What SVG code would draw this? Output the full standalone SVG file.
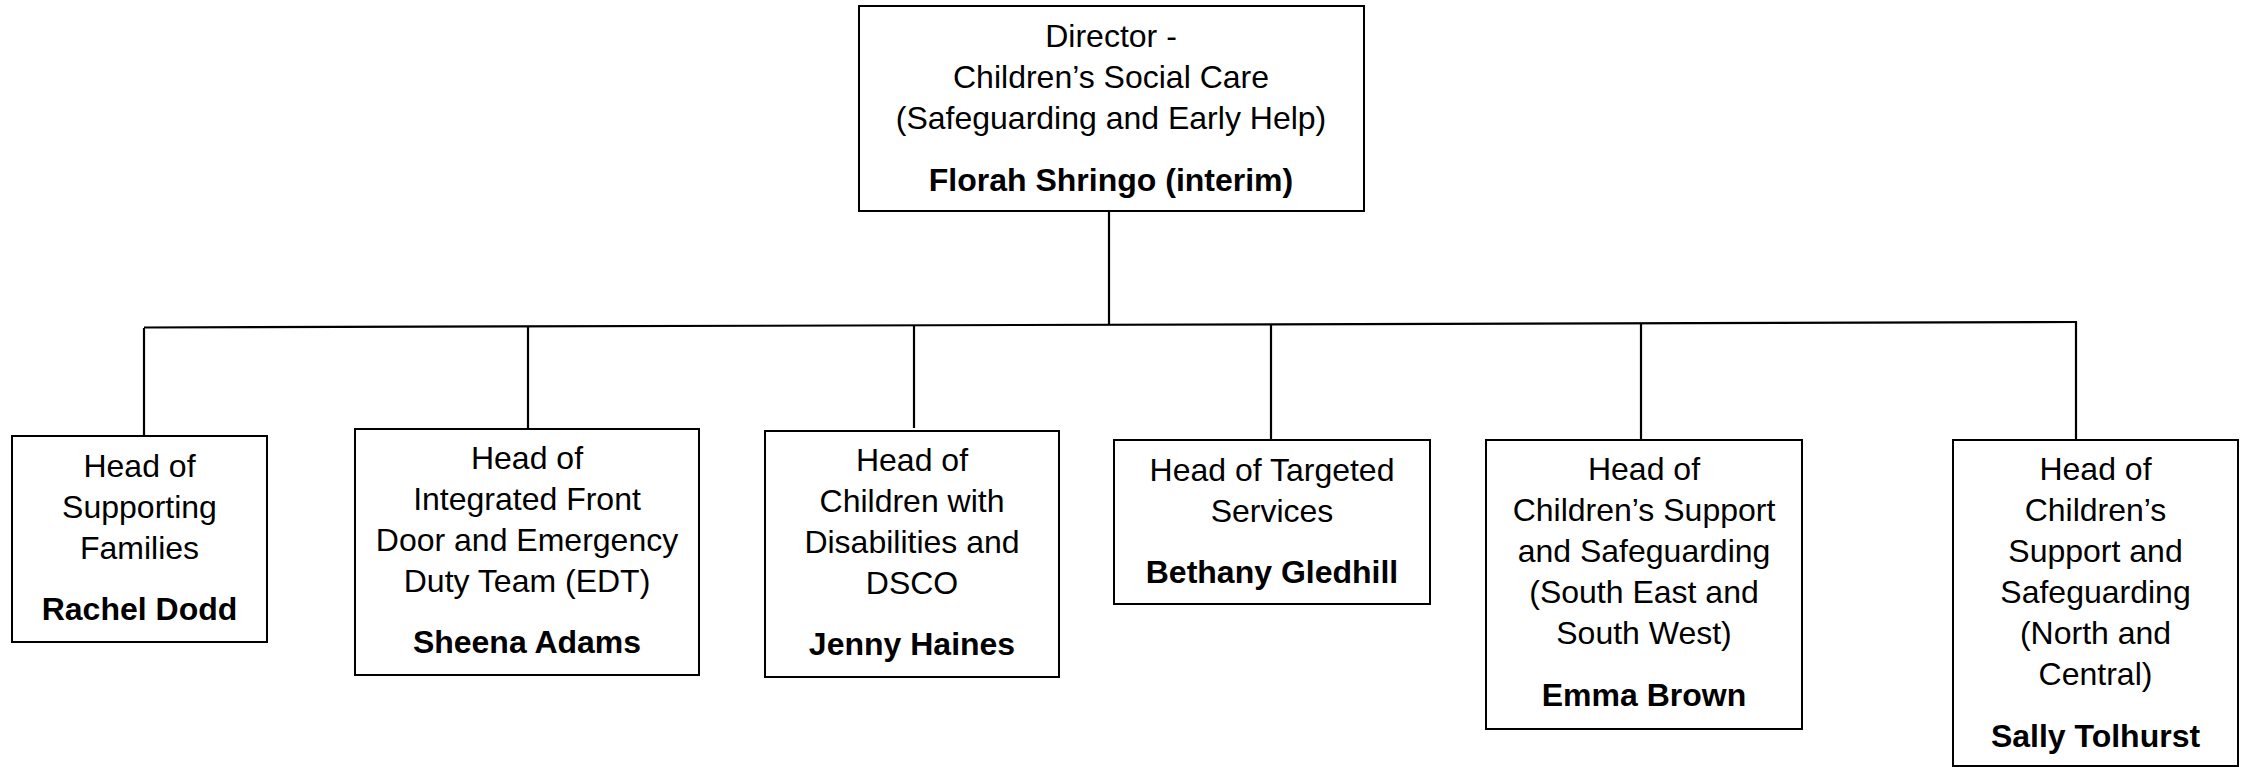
<svg xmlns="http://www.w3.org/2000/svg" width="2249" height="767" viewBox="0 0 2249 767">
<style>
.box{fill:#fff;stroke:#000;stroke-width:2}
.t{font-family:"Liberation Sans",Arial,sans-serif;font-size:32px;fill:#000;text-anchor:middle}
.b{font-weight:bold}
.ln{stroke:#000;stroke-width:2.2;fill:none}
</style>
<rect width="2249" height="767" fill="#fff"/>
<g id="connectors">
<line class="ln" x1="1109" y1="205" x2="1109" y2="325"/>
<line class="ln" x1="144" y1="327.5" x2="2077" y2="322" stroke-width="2.6"/>
<line class="ln" x1="144" y1="328" x2="144" y2="436"/>
<line class="ln" x1="528" y1="327" x2="528" y2="430"/>
<line class="ln" x1="914" y1="326" x2="914" y2="428"/>
<line class="ln" x1="1271" y1="325" x2="1271" y2="440"/>
<line class="ln" x1="1641" y1="323" x2="1641" y2="440"/>
<line class="ln" x1="2076" y1="322" x2="2076" y2="442"/>
</g>
<g id="director">
<rect class="box" x="859" y="6" width="505" height="205"/>
<text class="t" x="1111" y="47">Director -</text>
<text class="t" x="1111" y="88">Children’s Social Care</text>
<text class="t" x="1111" y="129">(Safeguarding and Early Help)</text>
<text class="t b" x="1111" y="191">Florah Shringo (interim)</text>
</g>
<g id="rachel">
<rect class="box" x="12" y="436" width="255" height="206"/>
<text class="t" x="139.5" y="477">Head of</text>
<text class="t" x="139.5" y="518">Supporting</text>
<text class="t" x="139.5" y="559">Families</text>
<text class="t b" x="139.5" y="620">Rachel Dodd</text>
</g>
<g id="sheena">
<rect class="box" x="355" y="429" width="344" height="246"/>
<text class="t" x="527" y="469">Head of</text>
<text class="t" x="527" y="510">Integrated Front</text>
<text class="t" x="527" y="551">Door and Emergency</text>
<text class="t" x="527" y="592">Duty Team (EDT)</text>
<text class="t b" x="527" y="653">Sheena Adams</text>
</g>
<g id="jenny">
<rect class="box" x="765" y="431" width="294" height="246"/>
<text class="t" x="912" y="471">Head of</text>
<text class="t" x="912" y="512">Children with</text>
<text class="t" x="912" y="553">Disabilities and</text>
<text class="t" x="912" y="594">DSCO</text>
<text class="t b" x="912" y="655">Jenny Haines</text>
</g>
<g id="bethany">
<rect class="box" x="1114" y="440" width="316" height="164"/>
<text class="t" x="1272" y="481">Head of Targeted</text>
<text class="t" x="1272" y="522">Services</text>
<text class="t b" x="1272" y="583">Bethany Gledhill</text>
</g>
<g id="emma">
<rect class="box" x="1486" y="440" width="316" height="289"/>
<text class="t" x="1644" y="480">Head of</text>
<text class="t" x="1644" y="521">Children’s Support</text>
<text class="t" x="1644" y="562">and Safeguarding</text>
<text class="t" x="1644" y="603">(South East and</text>
<text class="t" x="1644" y="644">South West)</text>
<text class="t b" x="1644" y="706">Emma Brown</text>
</g>
<g id="sally">
<rect class="box" x="1953" y="440" width="285" height="326"/>
<text class="t" x="2095.5" y="480">Head of</text>
<text class="t" x="2095.5" y="521">Children’s</text>
<text class="t" x="2095.5" y="562">Support and</text>
<text class="t" x="2095.5" y="603">Safeguarding</text>
<text class="t" x="2095.5" y="644">(North and</text>
<text class="t" x="2095.5" y="685">Central)</text>
<text class="t b" x="2095.5" y="747">Sally Tolhurst</text>
</g>
</svg>
